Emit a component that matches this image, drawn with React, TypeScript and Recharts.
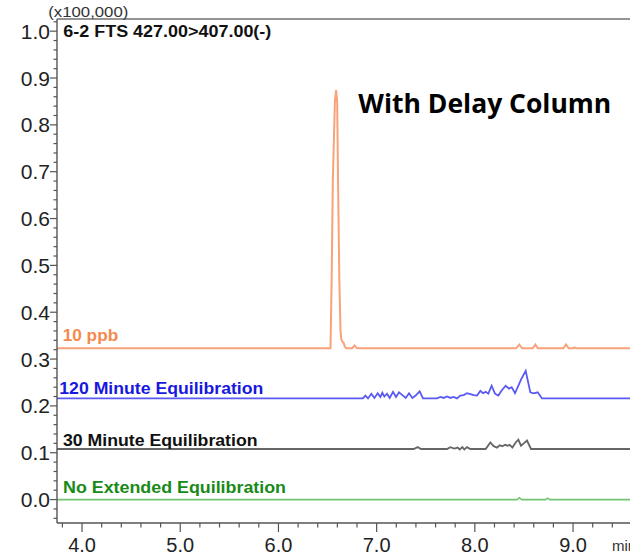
import React from "react";
import { LineChart, Line, XAxis, YAxis, ReferenceLine } from "recharts";

// ---- data (time in min, intensity in x100,000) ----
const ORANGE_10PPB: [number, number][] = [
  [3.745, 0.323], [6.53, 0.323], [6.542, 0.47], [6.554, 0.683], [6.575, 0.85], [6.587, 0.874],
  [6.598, 0.85], [6.607, 0.683], [6.62, 0.47], [6.632, 0.36], [6.64, 0.342], [6.655, 0.336],
  [6.664, 0.335], [6.675, 0.327], [6.69, 0.323], [6.75, 0.323], [6.776, 0.329], [6.80, 0.323],
  [8.42, 0.323], [8.453, 0.331], [8.48, 0.323], [8.59, 0.323], [8.616, 0.331], [8.64, 0.323],
  [8.90, 0.323], [8.929, 0.331], [8.955, 0.323], [9.0, 0.323], [9.013, 0.325], [9.03, 0.323],
  [9.58, 0.323],
];

const BLUE_120MIN: [number, number][] = [
  [3.745, 0.216], [6.861, 0.216], [6.885, 0.222], [6.912, 0.216], [6.946, 0.226], [6.977, 0.217],
  [7.011, 0.227], [7.038, 0.219], [7.058, 0.228], [7.078, 0.22], [7.106, 0.226], [7.133, 0.217],
  [7.167, 0.23], [7.197, 0.219], [7.228, 0.229], [7.262, 0.223], [7.296, 0.217], [7.33, 0.227],
  [7.364, 0.217], [7.397, 0.222], [7.438, 0.231], [7.472, 0.216], [7.615, 0.216], [7.649, 0.219],
  [7.683, 0.217], [7.717, 0.22], [7.75, 0.217], [7.784, 0.219], [7.818, 0.216], [7.852, 0.222],
  [7.886, 0.223], [7.92, 0.227], [7.954, 0.225], [7.988, 0.223], [8.022, 0.222], [8.056, 0.232],
  [8.083, 0.227], [8.11, 0.23], [8.137, 0.226], [8.171, 0.243], [8.205, 0.226], [8.239, 0.222],
  [8.273, 0.233], [8.314, 0.243], [8.348, 0.237], [8.375, 0.24], [8.409, 0.227], [8.47, 0.256],
  [8.518, 0.275], [8.565, 0.229], [8.599, 0.227], [8.64, 0.229], [8.684, 0.216], [9.58, 0.216],
];

const BLACK_30MIN: [number, number][] = [
  [3.745, 0.108], [7.377, 0.108], [7.418, 0.112], [7.452, 0.108], [7.717, 0.108], [7.75, 0.112],
  [7.791, 0.109], [7.825, 0.111], [7.846, 0.107], [7.873, 0.112], [7.893, 0.107], [7.92, 0.112],
  [7.954, 0.108], [8.11, 0.108], [8.158, 0.122], [8.192, 0.114], [8.226, 0.111], [8.253, 0.116],
  [8.28, 0.114], [8.307, 0.117], [8.334, 0.115], [8.355, 0.117], [8.382, 0.111], [8.416, 0.122],
  [8.443, 0.128], [8.47, 0.115], [8.504, 0.121], [8.531, 0.126], [8.572, 0.108], [9.58, 0.108],
];

const GREEN_NOEXT: [number, number][] = [
  [3.745, 0.0], [8.43, 0.0], [8.453, 0.004], [8.476, 0.0], [8.72, 0.0], [8.742, 0.003],
  [8.764, 0.0], [9.58, 0.0],
];

const X_MIN = 3.745;
const X_MAX = 9.58;
const Y_MIN = -0.05;
const Y_MAX = 1.026;

const X_TICKS = [3.8, 4.0, 4.2, 4.4, 4.6, 4.8, 5.0, 5.2, 5.4, 5.6, 5.8, 6.0, 6.2, 6.4, 6.6, 6.8,
  7.0, 7.2, 7.4, 7.6, 7.8, 8.0, 8.2, 8.4, 8.6, 8.8, 9.0, 9.2, 9.4];
const Y_TICKS = [-0.04, -0.02, 0.0, 0.02, 0.04, 0.06, 0.08, 0.1, 0.12, 0.14, 0.16, 0.18, 0.2,
  0.22, 0.24, 0.26, 0.28, 0.3, 0.32, 0.34, 0.36, 0.38, 0.4, 0.42, 0.44, 0.46, 0.48, 0.5, 0.52,
  0.54, 0.56, 0.58, 0.6, 0.62, 0.64, 0.66, 0.68, 0.7, 0.72, 0.74, 0.76, 0.78, 0.8, 0.82, 0.84,
  0.86, 0.88, 0.9, 0.92, 0.94, 0.96, 0.98, 1.0, 1.02];

const TRACE_LABELS = ["10 ppb", "120 Minute Equilibration", "30 Minute Equilibration", "No Extended Equilibration"];
const TITLE = "6-2 FTS 427.00>407.00(-)";
const SCALE_LABEL = "(x100,000)";
const ANNOTATION = "With Delay Column";
const X_UNIT = "min";

const toRows = (arr: [number, number][]) => arr.map(([t, y]) => ({ t, y }));

const FONT = "'Liberation Sans', Arial, sans-serif";
const AXIS_COLOR = "#555";

const isMajor = (v: number, step: number) => Math.abs(v / step - Math.round(v / step)) < 1e-6;

const YTick = (props: any) => {
  const { x, y, payload } = props;
  const v = payload.value as number;
  const major = isMajor(v, 0.1);
  return (
    <g>
      <line x1={x - (major ? 7 : 3.5)} x2={x} y1={y} y2={y} stroke={AXIS_COLOR} strokeWidth={1.2} />
      {major && (
        <text x={x - 7} y={y} dy="0.36em" textAnchor="end" fontFamily={FONT} fontSize={21} fill="#222">
          {v.toFixed(1)}
        </text>
      )}
    </g>
  );
};

const XTick = (props: any) => {
  const { x, y, payload } = props;
  const v = payload.value as number;
  const major = isMajor(v, 1);
  return (
    <g>
      <line x1={x} x2={x} y1={y} y2={y + (major ? 9 : 4.5)} stroke={AXIS_COLOR} strokeWidth={1.2} />
      {major && (
        <text x={x} y={y + 28.5} textAnchor="middle" fontFamily={FONT} fontSize={20} fill="#222">
          {v.toFixed(1)}
        </text>
      )}
    </g>
  );
};

export default function App() {
  return (
    <div style={{ position: "absolute", left: 0, top: 0, width: 630, height: 554, overflow: "hidden", background: "#fff" }}>
      <LineChart width={630} height={554} margin={{ top: 19, right: 0, bottom: 0, left: 0 }}>
        <XAxis
          type="number"
          dataKey="t"
          domain={[X_MIN, X_MAX]}
          allowDataOverflow
          ticks={X_TICKS}
          interval={0}
          tickSize={0}
          tickMargin={0}
          tickLine={false}
          tick={<XTick />}
          height={31}
          axisLine={{ stroke: AXIS_COLOR, strokeWidth: 1.4 }}
        />
        <YAxis
          type="number"
          domain={[Y_MIN, Y_MAX]}
          allowDataOverflow
          ticks={Y_TICKS}
          interval={0}
          tickSize={0}
          tickMargin={0}
          tickLine={false}
          tick={<YTick />}
          width={57}
          axisLine={{ stroke: AXIS_COLOR, strokeWidth: 1.4 }}
        />
        <ReferenceLine y={Y_MAX} stroke="#707070" strokeWidth={1.6} ifOverflow="visible" />
        <Line data={toRows(GREEN_NOEXT)} dataKey="y" type="linear" stroke="#72c472" strokeWidth={1.6} dot={false} isAnimationActive={false} />
        <Line data={toRows(BLACK_30MIN)} dataKey="y" type="linear" stroke="#666666" strokeWidth={1.8} dot={false} isAnimationActive={false} />
        <Line data={toRows(BLUE_120MIN)} dataKey="y" type="linear" stroke="#5a5af2" strokeWidth={1.8} dot={false} isAnimationActive={false} />
        <Line data={toRows(ORANGE_10PPB)} dataKey="y" type="linear" stroke="#f9a27a" strokeWidth={2} dot={false} isAnimationActive={false} />
      </LineChart>
      <svg width={630} height={554} style={{ position: "absolute", left: 0, top: 0, pointerEvents: "none" }}>
        <text x={48.3} y={17} fontFamily={FONT} fontSize={14} fill="#333" textLength={80} lengthAdjust="spacingAndGlyphs">{SCALE_LABEL}</text>
        <text x={63.3} y={37.3} fontFamily={FONT} fontSize={16} fontWeight="bold" fill="#111" textLength={208} lengthAdjust="spacingAndGlyphs">{TITLE}</text>
        <text x={358.3} y={113.3} fontFamily="'Open Sans', sans-serif" fontSize={27} fontWeight="bold" fill="#000" textLength={253} lengthAdjust="spacingAndGlyphs">{ANNOTATION}</text>
        <text x={62.7} y={340.7} fontFamily={FONT} fontSize={17} fontWeight="bold" fill="#f58a4e" textLength={55.5} lengthAdjust="spacingAndGlyphs">{TRACE_LABELS[0]}</text>
        <text x={59.3} y={394} fontFamily={FONT} fontSize={17} fontWeight="bold" fill="#1818e0" textLength={204} lengthAdjust="spacingAndGlyphs">{TRACE_LABELS[1]}</text>
        <text x={63} y={445.7} fontFamily={FONT} fontSize={17} fontWeight="bold" fill="#111" textLength={194.5} lengthAdjust="spacingAndGlyphs">{TRACE_LABELS[2]}</text>
        <text x={63} y={493.3} fontFamily={FONT} fontSize={17} fontWeight="bold" fill="#178a17" textLength={223} lengthAdjust="spacingAndGlyphs">{TRACE_LABELS[3]}</text>
        <text x={612} y={551} fontFamily={FONT} fontSize={15} fill="#333">{X_UNIT}</text>
      </svg>
    </div>
  );
}
